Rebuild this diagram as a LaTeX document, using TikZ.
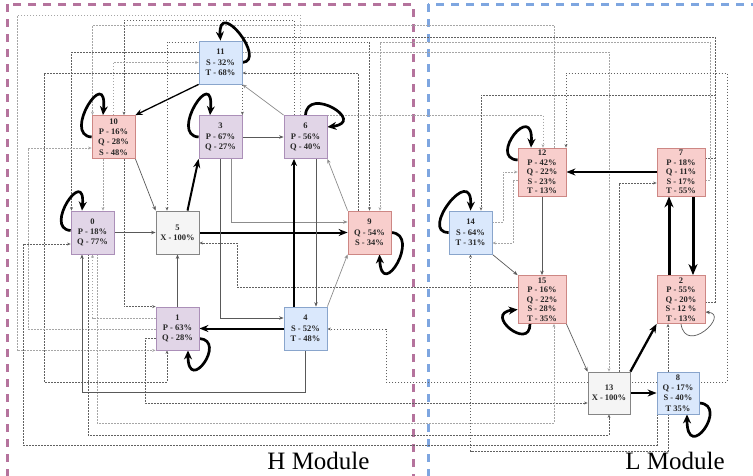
\documentclass[tikz,border=0pt]{standalone}
\usepackage{fontspec}
\setmainfont{Liberation Serif}
\usetikzlibrary{arrows.meta,calc}
\pgfdeclarelayer{bg}
\pgfsetlayers{bg,main}
\definecolor{redF}{HTML}{F8CECC}\definecolor{redD}{HTML}{B85450}
\definecolor{bluF}{HTML}{DAE8FC}\definecolor{bluD}{HTML}{6C8EBF}
\definecolor{purF}{HTML}{E1D5E7}\definecolor{purD}{HTML}{9673A6}
\definecolor{gryF}{HTML}{F5F5F5}\definecolor{gryD}{HTML}{666666}
\definecolor{hmod}{HTML}{B5739D}\definecolor{lmod}{HTML}{7EA6E0}
\begin{document}
\begin{tikzpicture}[x=1pt,y=-1pt,
  box/.style={draw, line width=0.8pt, minimum width=43pt, minimum height=43pt, inner sep=0pt, align=center, font=\fontsize{8.5}{10.3}\selectfont\bfseries, text=black!85},
  bigbox/.style={box, minimum width=48pt, minimum height=48pt, font=\fontsize{8.5}{9.6}\selectfont\bfseries},
  rd/.style={fill=redF, draw=redD!70},
  bl/.style={fill=bluF, draw=bluD!80},
  pu/.style={fill=purF, draw=purD!80},
  gy/.style={fill=gryF, draw=gryD!80},
  dk/.style={draw=black!62, line width=0.6pt, dash pattern=on 1.6pt off 1.4pt, -{Stealth[length=3.5pt,width=3pt]}},
  lt/.style={dk, draw=black!35},
  both/.style={{Stealth[length=3.5pt,width=3pt]}-{Stealth[length=3.5pt,width=3pt]}},
  ln/.style={draw=black!65, line width=0.7pt, -{Stealth[length=4.5pt,width=3.5pt]}},
  med/.style={draw=black, line width=1.3pt, -{Stealth[length=7pt,width=6pt]}},
  thk/.style={draw=black, line width=2pt, -{Stealth[length=9pt,width=7pt]}},
  vthk/.style={draw=black, line width=3pt, -{Stealth[length=11pt,width=9pt]}},
  lp/.style={draw=black, line width=2.7pt, -{Stealth[length=9pt,width=8pt]}},
  modlabel/.style={font=\fontsize{25}{25}\selectfont, anchor=base, inner sep=0pt}
]
\useasboundingbox (0,0) rectangle (753,475);
% nodes
\node[box,bl] (n11) at (220.5,62.5) {11\\S - 32\%\\T - 68\%};
\node[box,rd] (n10) at (113.5,137) {10\\P - 16\%\\Q - 28\%\\S - 48\%};
\node[box,pu] (n3) at (220.5,137) {3\\P - 67\%\\Q - 27\%};
\node[box,pu] (n6) at (305.5,137) {6\\P - 56\%\\Q - 40\%};
\node[box,pu] (n0) at (92.5,232.5) {0\\P - 18\%\\Q - 77\%};
\node[box,gy] (n5) at (177.5,232.5) {5\\X - 100\%};
\node[box,rd] (n9) at (369.5,232.5) {9\\Q - 54\%\\S - 34\%};
\node[box,pu] (n1) at (177.5,328.5) {1\\P - 63\%\\Q - 28\%};
\node[box,bl] (n4) at (305.5,328.5) {4\\S - 52\%\\T - 48\%};
\node[bigbox,rd] (n12) at (542,172) {12\\P - 42\%\\Q - 22\%\\S - 23\%\\T - 13\%};
\node[bigbox,rd] (n7) at (681,172) {7\\P - 18\%\\Q - 11\%\\S - 17\%\\T - 55\%};
\node[box,bl] (n14) at (470.5,232.5) {14\\S - 64\%\\T - 31\%};
\node[bigbox,rd] (n15) at (542,299.5) {15\\P - 16\%\\Q - 22\%\\S - 28\%\\T - 35\%};
\node[bigbox,rd] (n2) at (681,299.5) {2\\P - 55\%\\Q - 20\%\\S - 12 \%\\T - 13\%};
\node[box,gy,minimum width=42pt,minimum height=42pt] (n13) at (609,393) {13\\X - 100\%};
\node[box,bl,minimum width=42pt,minimum height=42pt] (n8) at (678,393) {8\\Q - 17\%\\S - 40\%\\T 35\%};
\node[modlabel] (hl) at (318.5,469) {H Module};
\node[modlabel] (ll) at (675,469) {L Module};

\begin{pgfonlayer}{bg}
\clip (0,0) rectangle (753,475);
\draw[draw=hmod, line width=3pt, dash pattern=on 8pt off 7pt] (7,4) rectangle (413,520);
\draw[draw=lmod, line width=3pt, dash pattern=on 8pt off 7pt] (428,4) rectangle (790,520);
% dotted connectors
\draw[lt] ([xshift=-5.5pt]n6.north) |- (17,15) |- (n1.south west);
\draw[dk] ([xshift=-11.5pt]n6.north) |- (124,20) -- ([xshift=10.5pt]n10.north);
\draw[lt] ([xshift=12pt]n12.north) |- (92.5,25) -- ([xshift=-21pt]n10.north);
\draw[dk] ([yshift=-2.5pt]n2.east) -| (715,37) -| (n3.north east);
\draw[dk,both] ([xshift=-10.5pt]n5.north) |- (369.5,42) -- (n9.north);
\draw[lt] ([yshift=-8pt]n7.east) -| (710,42) -| ([xshift=10.5pt]n9.north);
\draw[dk] ([yshift=10.5pt]n11.west) -| ([xshift=-21pt]n0.north);
\draw[lt] ([yshift=10.5pt]n11.east) -| (n13.north);
\draw[lt] ([xshift=-0.5pt]n10.north) |- (n11.west);
\draw[dk] ([yshift=-10.5pt]n11.west) -| (44,382) -| ([xshift=-10.5pt]n1.south);
\draw[dk] ([xshift=-11.5pt]n9.north) |- ([yshift=-10.5pt]n11.east);
\draw[lt] (n6.north east) -| ([xshift=1pt]n12.north);
\draw[dk,both] ([xshift=24pt]n12.north) |- (727,73) |- (386,382) |- ([yshift=-0.5pt]n4.east);
\draw[lt] ([xshift=-10.5pt]n10.south) -- ([xshift=10.5pt]n0.north);
\draw[dk] ([xshift=10.5pt]n10.south) |- (n1.north west);
\draw[lt] ([yshift=10.5pt]n1.west) -| (n0.south);
\draw[lt] ([yshift=-0.5pt]n1.west) -| (28,148) -- ([yshift=-11pt]n10.west);
\draw[dk] ([yshift=-10pt]n1.west) -| (145,403) -- ([yshift=-10pt]n13.west);
\draw[dk] ([xshift=-4.5pt]n0.south) |- (609,435) -- (n13.south);
\draw[lt] ([xshift=4.5pt]n0.south) |- (554,423) -- ([xshift=12pt]n15.south);
\draw[dk] ([xshift=-21pt]n8.south) |- (23,445) |- ([yshift=-11.5pt]n0.west);
\draw[dk] ([xshift=-10pt]n8.south) |- (470.5,451) -- (n14.south);
\draw[dk] ([xshift=-10pt]n8.north) -- ([xshift=-13pt]n2.south);
\draw[dk] ([yshift=12.5pt]n15.west) -| (237,243) -- ([yshift=-10.5pt]n5.east);
\draw[dk] ([xshift=10pt]n13.north) |- ([yshift=-11pt]n7.west);
\draw[dk] ([yshift=14pt]n7.east) -| (715,95) -| ([xshift=10.5pt]n14.north);
\draw[lt] ([yshift=10.5pt]n14.east) -| (503,172) -- (n12.west);
\draw[lt] ([yshift=-8pt]n12.west) -| (513,243) -- ([yshift=-10.5pt]n14.east);
% solid connectors H
\draw[med] (n11.south west) -- (n10.north east);
\draw[ln,draw=black!45] (n6.north west) -- (n11.south east);
\draw[ln] (n3.east) -- (n6.west);
\draw[ln] (n10.south east) -- (n5.north west);
\draw[thk] ([xshift=10pt]n5.north) -- (n3.south west);
\draw[ln] (n0.east) -- (n5.west);
\draw[thk] (n5.east) -- (n9.west);
\draw[ln,draw=black!45] ([xshift=10.5pt]n3.south) |- ([yshift=10.5pt]n9.west);
\draw[ln] (n3.south) |- ([yshift=10.5pt]n4.west);
\draw[ln] ([xshift=10.5pt]n6.south) -- ([xshift=10.5pt]n4.north);
\draw[med] ([xshift=-11.5pt]n4.north) -- ([xshift=-11.5pt]n6.south);
\draw[ln,draw=black!45] (n9.north west) -- (n6.south east);
\draw[ln,draw=black!45] (n4.north east) -- (n9.south west);
\draw[thk] (n4.west) -- (n1.east);
\draw[ln] (n1.north) -- (n5.south);
\draw[ln] (n4.south) |- (82,392) -- ([xshift=-10.5pt]n0.south);
% solid connectors L
\draw[thk] (n7.west) -- (n12.east);
\draw[ln] (n12.south) -- (n15.north);
\draw[ln] (n14.south east) -- (n15.north west);
\draw[ln] (n15.south east) -- (n13.north west);
\draw[thk,line width=2.3pt] (n13.north east) -- (n2.south west);
\draw[thk,line width=2.3pt] (n13.east) -- (n8.west);
\draw[vthk] ([xshift=-12pt]n2.north) -- ([xshift=-12pt]n7.south);
\draw[vthk] ([xshift=12pt]n7.south) -- ([xshift=12pt]n2.north);
% self loops
\draw[lp] (n10.west) .. controls +(-30,-2) and +(5,-52) .. ([xshift=-10.5pt]n10.north);
\draw[lp] (n3.west) .. controls +(-30,-2) and +(5,-52) .. ([xshift=-10.5pt]n3.north);
\draw[lp] ([yshift=2pt]n0.west) .. controls +(-28,-2) and +(4,-46) .. ([xshift=-10.5pt]n0.north);
\draw[lp] (n11.east) .. controls +(25,-2) and +(-3,-44) .. (n11.north);
\draw[lp] (n6.north) .. controls +(2,-30) and +(40,-5) .. ([yshift=10pt]n6.east);
\draw[lp] (n9.east) .. controls +(30,2) and +(2,48) .. ([xshift=10pt]n9.south);
\draw[lp] ([yshift=-10pt]n1.east) .. controls +(28,2) and +(0,45) .. ([xshift=10.5pt]n1.south);
\draw[lp] ([yshift=12pt]n12.west) .. controls +(-30,-2) and +(3,-48) .. ([xshift=-11pt]n12.north);
\draw[lp] (n14.west) .. controls +(-30,0) and +(2,-48) .. (n14.north);
\draw[lp] ([xshift=-12pt]n15.south) .. controls +(0,28) and +(-35,4) .. ([yshift=-10pt]n15.west);
\draw[lp] ([yshift=-10pt]n8.east) .. controls +(30,2) and +(0,50) .. ([xshift=9pt]n8.south);
\draw[ln] (n2.south) .. controls +(5,32) and +(25,2) .. ([yshift=-12.5pt]n2.east);
\end{pgfonlayer}
\end{tikzpicture}
\end{document}
